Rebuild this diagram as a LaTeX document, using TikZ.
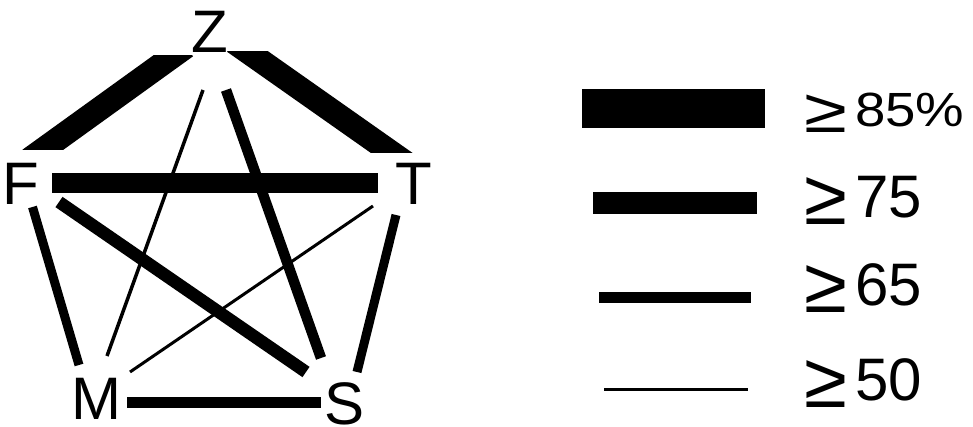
\documentclass[tikz,border=0pt]{standalone}
\usepackage{fontspec}
\setmainfont{Liberation Sans}
\usetikzlibrary{calc}
\tikzset{
  lbl/.style={inner sep=0pt, anchor=base, font=\fontsize{60}{60}\selectfont},
  leg/.style={inner sep=0pt, anchor=base west, font=\fontsize{60}{60}\selectfont},
  w85/.style={line width=39pt},
  w75/.style={line width=22pt},
  w65/.style={line width=10.5pt},
  w50/.style={line width=3pt},
  band/.style={draw=black, line cap=butt}
}
\newcommand{\gesign}{\makebox[51pt][l]{\raisebox{-7pt}{\scalebox{1.3}{≥}}}}
\begin{document}
\begin{tikzpicture}[x=1pt,y=-1pt]
\useasboundingbox (0,0) rectangle (973,427);
% letters
\node[lbl] (Z) at (210,53) {Z};
\node[lbl] (F) at (20.5,205) {F};
\node[lbl] (T) at (413.5,205) {T};
\node[lbl] (M) at (96.5,419) {M};
\node[lbl] (S) at (344.5,424.5) {S};
% edge end points
\coordinate (zf1) at (186,46.6);  \coordinate (zf2) at (29.5,159.4);
\coordinate (zt1) at (234,42);    \coordinate (zt2) at (406,163);
\coordinate (ft1) at (52,183);    \coordinate (ft2) at (378,183);
\coordinate (fs1) at (59,202);    \coordinate (fs2) at (306,372);
\coordinate (zs1) at (226,90);    \coordinate (zs2) at (321,358);
\coordinate (ts1) at (396,215);   \coordinate (ts2) at (357,372);
\coordinate (fm1) at (32.5,207);  \coordinate (fm2) at (79,365);
\coordinate (zm1) at (203,90);    \coordinate (zm2) at (107,356);
\coordinate (tm1) at (373,206);   \coordinate (tm2) at (130,372);
\coordinate (ms1) at (127,402.5); \coordinate (ms2) at (321,402.5);
% edges
\begin{scope}
  \clip (0,56) rectangle (973,150);
  \draw[band,w75,line width=24pt] (zf1) -- (zf2);
\end{scope}
\begin{scope}
  \clip (0,52) rectangle (973,153);
  \draw[band,w75,line width=24pt] (zt1) -- (zt2);
\end{scope}
\draw[band,w75,line width=20pt] (ft1) -- (ft2);
\draw[band,w65,line width=12.5pt] (fs1) -- (fs2);
\draw[band,w65] (zs1) -- (zs2);
\draw[band,w65,line width=9pt] (ts1) -- (ts2);
\draw[band,w65,line width=9pt] (fm1) -- (fm2);
\draw[band,w50,line width=3.5pt] (zm1) -- (zm2);
\draw[band,w50] (tm1) -- (tm2);
\draw[band,w65,line width=11.5pt] (ms1) -- (ms2);
% legend
\coordinate (l85a) at (582,108.5); \coordinate (l85b) at (765,108.5);
\coordinate (l75a) at (593,203);   \coordinate (l75b) at (757,203);
\coordinate (l65a) at (599,297.5); \coordinate (l65b) at (751,297.5);
\coordinate (l50a) at (604,389);   \coordinate (l50b) at (748,389);
\draw[band,w85] (l85a) -- (l85b);
\draw[band,w75] (l75a) -- (l75b);
\draw[band,w65] (l65a) -- (l65b);
\draw[band,w50] (l50a) -- (l50b);
\node[leg] (t85) at (804,127) {\scalebox{1}[0.8]{\gesign}\scalebox{0.91}[0.8]{85\%}};
\node[leg] (t75) at (804,218) {\gesign 75};
\node[leg] (t65) at (804,305) {\gesign 65};
\node[leg] (t50) at (804,400) {\gesign 50};
\end{tikzpicture}
\end{document}
